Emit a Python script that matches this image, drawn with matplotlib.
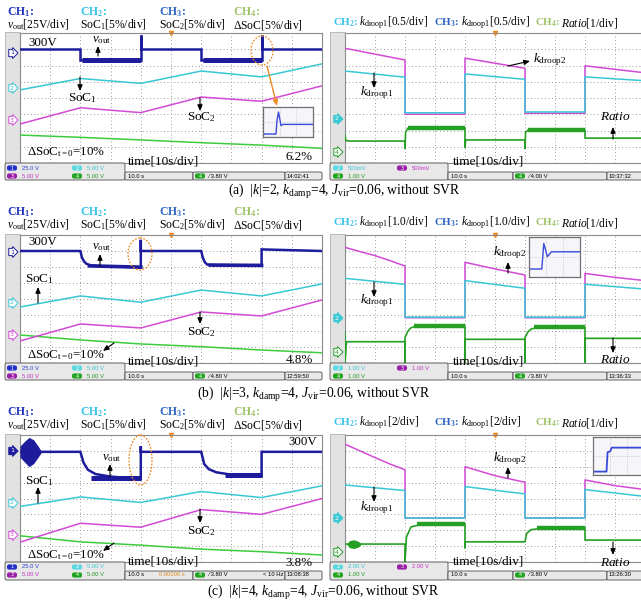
import numpy as np
import matplotlib
matplotlib.use('Agg')
import matplotlib.pyplot as plt
from matplotlib.patches import Rectangle, Ellipse, FancyBboxPatch

plt.rcParams['font.family'] = ['Liberation Serif', 'DejaVu Serif']
plt.rcParams['mathtext.fontset'] = 'custom'
plt.rcParams['mathtext.rm'] = 'Liberation Serif'
plt.rcParams['mathtext.it'] = 'Liberation Serif:italic'
plt.rcParams['mathtext.bf'] = 'Liberation Serif:bold'

# ---------------- data (scope divisions: x 0..10 @10 s/div, y 0..8) ----------------
t_knots = [0, 2, 4, 6, 8, 10]
step_x = [0, 2, 2, 4, 4, 6, 6, 8, 8, 10]

# (a) |k|=2
a_vout_x = [0, 2, 2, 4, 4, 4, 6, 6, 8, 8, 8, 10]
a_vout_y = [7.0, 7.0, 6.34, 6.34, 7.88, 7.0, 7.0, 6.34, 6.34, 7.88, 7.0, 7.0]
a_vout_noise_x = [[2.05, 4], [6.05, 8]]
a_vout_noise_y = [6.34, 6.36]
a_soc1 = [4.5, 5.2, 4.9, 5.66, 5.3, 6.1]
a_soc2 = [2.4, 3.4, 3.1, 4.06, 3.8, 4.75]
a_dsoc = [1.72, 1.58, 1.42, 1.25, 1.1, 0.9]
a_kd2 = [7.06, 6.34, 3.0, 3.0, 6.45, 5.83, 3.06, 3.06, 5.98, 5.55]
a_kd1 = [5.66, 5.28, 3.09, 3.09, 5.48, 5.15, 3.14, 3.14, 5.3, 5.06]
a_ratio_x = [0, 0.03, 0.15, 2, 2, 2.02, 2.1, 4, 4, 4.02, 6, 6, 6.02, 6.1, 8, 8, 10]
a_ratio_y = [1.7, 1.38, 1.35, 1.35, 0.9, 1.9, 2.15, 2.15, 0.95, 1.42, 1.42, 0.9, 1.9, 2.03, 2.03, 1.53, 1.53]
a_ratio_noise_x = [[2.1, 4], [6.1, 8]]
a_ratio_noise_y = [2.15, 2.03]
a_inset_x = [0, 0.26, 0.28, 0.31, 0.36, 0.40, 1.0]
a_inset_y = [0.1, 0.1, 0.55, 0.83, 0.38, 0.42, 0.42]

# (b) |k|=3
b_vout_x = [0, 2, 2.05, 2.12, 2.2, 2.35, 2.6, 4, 4, 4, 6, 6.05, 6.12, 6.2, 6.4, 8, 8, 10]
b_vout_y = [7.0, 7.0, 6.6, 6.35, 6.2, 6.1, 6.06, 5.98, 7.7, 7.0, 7.0, 6.6, 6.3, 6.15, 6.12, 6.1, 7.1, 7.0]
b_soc1 = [3.5, 4.19, 3.8, 4.56, 4.19, 4.94]
b_soc2 = [1.375, 2.44, 2.19, 3.19, 2.94, 3.94]
b_dsoc = [1.75, 1.44, 1.19, 1.02, 0.81, 0.64]
b_kd2_x = [0, 0.5, 1, 1.5, 2, 2, 4, 4, 5, 6, 6, 8, 8, 9, 10]
b_kd2_y = [7.23, 6.96, 6.71, 6.40, 6.06, 2.83, 2.83, 6.29, 5.88, 5.5, 2.83, 2.83, 5.6, 5.35, 5.15]
b_kd1 = [5.29, 4.92, 2.87, 2.87, 5.15, 4.67, 2.87, 2.87, 4.92, 4.62]
b_ratio_x = [0, 0, 0.05, 2, 2, 2, 2.1, 2.2, 2.4, 2.7, 4, 4, 4, 6, 6, 6, 6.1, 6.2, 6.4, 6.7, 8, 8, 8, 10]
b_ratio_y = [1.9, 0.0, 1.33, 1.33, 0.0, 1.6, 2.0, 2.2, 2.32, 2.37, 2.3, 0.0, 1.48, 1.48, 0.0, 1.6, 1.95, 2.12, 2.22, 2.27, 2.25, 0.0, 1.54, 1.54]
b_ratio_noise_x = [[2.3, 4], [6.3, 8]]
b_ratio_noise_y = [2.33, 2.25]
b_inset_x = [0, 0.25, 0.27, 0.29, 0.36, 0.44, 1.0]
b_inset_y = [0.2, 0.2, 0.5, 0.84, 0.51, 0.63, 0.63]

# (c) |k|=4
c_vout_x = [0, 2, 2.1, 2.25, 2.5, 3.0, 4.0, 4.0, 4.0, 6, 6.1, 6.25, 6.5, 7.0, 8.0, 8.0, 10]
c_vout_y = [6.94, 6.94, 6.27, 5.81, 5.54, 5.38, 5.23, 7.3, 6.94, 6.94, 6.17, 5.85, 5.65, 5.5, 5.44, 6.94, 6.94]
c_burst_x = [0, 0.15, 0.3, 0.45, 0.6, 0.72]
c_burst_hi = [7.3, 7.6, 7.85, 7.7, 7.3, 6.94]
c_burst_lo = [6.6, 6.3, 6.0, 6.2, 6.6, 6.94]
c_vout_noise_x = [[2.35, 4], [6.8, 8]]
c_vout_noise_y = [5.3, 5.46]
c_soc1 = [3.5, 4.1, 3.75, 4.44, 4.06, 4.8]
c_soc2 = [1.25, 2.44, 2.19, 3.3, 3.0, 4.0]
c_dsoc = [1.65, 1.27, 1.06, 0.81, 0.65, 0.44]
c_kd2_x = [0, 0.5, 1, 1.5, 2, 2, 4, 4, 5, 6, 6, 8, 8, 9, 10]
c_kd2_y = [7.42, 7.0, 6.58, 6.17, 5.81, 2.77, 2.77, 6.0, 5.44, 5.02, 2.77, 2.77, 5.17, 4.81, 4.56]
c_kd1 = [4.85, 4.5, 2.77, 2.77, 4.75, 4.29, 2.77, 2.77, 4.56, 4.13]
c_ratio_x = [0, 2, 2, 2.05, 2.2, 2.5, 4, 4, 4, 6, 6.05, 6.2, 6.5, 8, 8, 10]
c_ratio_y = [1.13, 1.13, 0.0, 1.58, 2.21, 2.35, 2.4, 0.9, 1.27, 1.27, 1.79, 2.04, 2.1, 2.17, 1.38, 1.38]
c_rburst_x = [0.05, 0.15, 0.3, 0.45, 0.55]
c_rburst_hi = [1.13, 1.35, 1.4, 1.3, 1.13]
c_rburst_lo = [1.13, 0.9, 0.85, 0.95, 1.13]
c_ratio_noise_x = [[2.4, 4], [6.4, 8]]
c_ratio_noise_y = [2.37, 2.14]
c_inset_x = [0, 0.26, 0.28, 0.33, 0.36, 1.0]
c_inset_y = [0.09, 0.09, 0.6, 0.62, 0.72, 0.72]

# ---------------- styling ----------------
W, H = 641, 603
C_V = '#1c1c9c'
C_CY = '#38c8d4'
C_MG = '#d24ad6'
C_GR = '#3ccc3c'
C_GR2 = '#25a025'
C_OR = '#f08a24'
H_CH1 = '#2233c0'
H_CH2 = '#35c3ea'
H_CH3 = '#2f66c8'
H_CH4 = '#9fc56a'

fig = plt.figure(figsize=(W / 100, H / 100), dpi=100)
fig.patch.set_facecolor('white')

bg = fig.add_axes([0, 0, 1, 1], zorder=0)
bg.set_xlim(0, W); bg.set_ylim(H, 0); bg.axis('off')


def px_axes(x0, y0, x1, y1, z=1):
    return fig.add_axes([x0 / W, 1 - y1 / H, (x1 - x0) / W, (y1 - y0) / H], zorder=z)


def scope(x0, x1, top, bot):
    ax = px_axes(x0, top, x1, bot)
    ax.set_xlim(0, 10); ax.set_ylim(0, 8)
    ax.set_xticks([]); ax.set_yticks([])
    ax.set_facecolor('white')
    for s in ax.spines.values():
        s.set_color('#8c8c8c'); s.set_linewidth(0.8)
    for gx in range(1, 10):
        ax.axvline(gx, color='#9c9c9c', lw=0.7, ls=(0, (1, 2.6)), zorder=0)
    for gy in range(1, 8):
        ax.axhline(gy, color='#9c9c9c', lw=0.7, ls=(0, (1, 2.6)), zorder=0)
    ax.plot([5], [7.97], marker='v', color=C_OR, ms=3, clip_on=False, zorder=1)
    return ax


rows = [dict(top=33, bot=163, sb=180), dict(top=235, bot=363, sb=380), dict(top=435, bot=562, sb=580)]

# background frames / strips
for r in rows:
    for (sx0, sx1) in [(5, 20), (330, 345)]:
        bg.add_patch(Rectangle((sx0, r['top'] - 1), sx1 - sx0, r['bot'] - r['top'] + 1,
                               fc='#e2e2e2', ec='#b0b0b0', lw=0.6))

axes = {}
for i, r in enumerate(rows):
    axes[(i, 'L')] = scope(20, 322, r['top'], r['bot'])
    axes[(i, 'R')] = scope(345, 645, r['top'], r['bot'])

# ---------------- traces ----------------
def left_panel(ax, vx, vy, soc1, soc2, dsoc, noise_x, noise_y):
    ax.plot(t_knots, dsoc, color=C_GR, lw=1.1, zorder=3)
    ax.plot(t_knots, soc2, color=C_MG, lw=1.1, zorder=3)
    ax.plot(t_knots, soc1, color=C_CY, lw=1.1, zorder=3)
    ax.plot(vx, vy, color=C_V, lw=1.8, zorder=4, solid_joinstyle='miter')
    for nx, ny in zip(noise_x, noise_y):
        ax.plot(nx, [ny, ny], color=C_V, lw=3.6, zorder=4, solid_capstyle='butt')


def right_panel(ax, k2x, k2y, k1y, rx, ry, nx_l, ny_l):
    ax.plot(k2x, k2y, color=C_MG, lw=1.1, zorder=3)
    ax.plot(step_x, k1y, color=C_CY, lw=1.1, zorder=3)
    ax.plot(rx, ry, color=C_GR2, lw=1.2, zorder=4)
    for nx, ny in zip(nx_l, ny_l):
        ax.plot(nx, [ny, ny], color=C_GR2, lw=3.2, zorder=4, solid_capstyle='butt')


left_panel(axes[(0, 'L')], a_vout_x, a_vout_y, a_soc1, a_soc2, a_dsoc, a_vout_noise_x, a_vout_noise_y)
left_panel(axes[(1, 'L')], b_vout_x, b_vout_y, b_soc1, b_soc2, b_dsoc, [], [])
left_panel(axes[(2, 'L')], c_vout_x, c_vout_y, c_soc1, c_soc2, c_dsoc, c_vout_noise_x, c_vout_noise_y)
axes[(1, 'L')].plot([2.3, 4], [6.07, 5.99], color=C_V, lw=2.6, zorder=4)
axes[(1, 'L')].plot([6.3, 8], [6.12, 6.1], color=C_V, lw=2.6, zorder=4)
axes[(2, 'L')].fill_between(c_burst_x, c_burst_lo, c_burst_hi, color=C_V, lw=0, zorder=4)

right_panel(axes[(0, 'R')], step_x, a_kd2, a_kd1, a_ratio_x, a_ratio_y, a_ratio_noise_x, a_ratio_noise_y)
right_panel(axes[(1, 'R')], b_kd2_x, b_kd2_y, b_kd1, b_ratio_x, b_ratio_y, b_ratio_noise_x, b_ratio_noise_y)
right_panel(axes[(2, 'R')], c_kd2_x, c_kd2_y, c_kd1, c_ratio_x, c_ratio_y, c_ratio_noise_x, c_ratio_noise_y)
axes[(2, 'R')].fill_between(c_rburst_x, c_rburst_lo, c_rburst_hi, color=C_GR2, lw=0, zorder=4)


def inset(x0, y0, x1, y1, ix, iy, lw=1.0):
    ia = px_axes(x0, y0, x1, y1, z=5)
    ia.set_xlim(0, 1); ia.set_ylim(0, 1)
    ia.set_xticks([]); ia.set_yticks([])
    ia.set_facecolor('#f5f5fa')
    for s in ia.spines.values():
        s.set_color('#707070'); s.set_linewidth(0.9)
    for g in [0.33, 0.66]:
        ia.axvline(g, color='#b0b0b0', lw=0.5, ls=(0, (1, 2)))
    ia.axhline(0.5, color='#b0b0b0', lw=0.5, ls=(0, (1, 2)))
    ia.plot(ix, iy, color='#3a4ad8', lw=lw)
    return ia


inset(263, 107, 313, 137, a_inset_x, a_inset_y)
inset(529, 237, 580, 277, b_inset_x, b_inset_y)
inset(593, 437, 645, 475, c_inset_x, c_inset_y, lw=1.3)

# ---------------- overlay: text, arrows, status bars ----------------
ov = fig.add_axes([0, 0, 1, 1], zorder=10)
ov.set_xlim(0, W); ov.set_ylim(H, 0); ov.axis('off')


def T(x, y, s, size=9.5, **kw):
    kw.setdefault('va', 'center')
    ov.text(x, y, s, fontsize=size, **kw)


def arrow(x0, y0, x1, y1, color='black'):
    ov.annotate('', xy=(x1, y1), xytext=(x0, y0),
                arrowprops=dict(arrowstyle='-|>,head_length=0.35,head_width=0.15', color=color, lw=0.8,
                                shrinkA=0, shrinkB=0))


def marker(x, y, s, color, filled):
    ov.text(x, y, s, fontsize=4.6, ha='center', va='center', family='DejaVu Sans',
            color='white' if filled else color,
            bbox=dict(boxstyle='rarrow,pad=0.18', fc=color if filled else 'white', ec=color, lw=0.7))


vout_lbl = r'$v_{\rm out}$'
header_y = [(12, 25, 23), (212, 225, 223), (412, 425, 423)]
right_scale = ['0.5', '1.0', '2']
for i, (h1, h2, hr) in enumerate(header_y):
    T(7, h1, r'$\mathbf{CH}_{\mathbf{1}}$:', 8.5, color=H_CH1, fontweight='bold')
    T(80, h1, r'$\mathbf{CH}_{\mathbf{2}}$:', 8.5, color=H_CH2, fontweight='bold')
    T(159, h1, r'$\mathbf{CH}_{\mathbf{3}}$:', 8.5, color=H_CH3, fontweight='bold')
    T(233, h1, r'$\mathbf{CH}_{\mathbf{4}}$:', 8.5, color=H_CH4, fontweight='bold')
    T(7, h2, vout_lbl + '[25V/div]', 8.4)
    T(80, h2, r'SoC$_1$[5%/div]', 8.4)
    T(159, h2, r'SoC$_2$[5%/div]', 8.4)
    T(233, h2, r'$\Delta$SoC[5%/div]', 8.4)
    sc = right_scale[i]
    T(333, hr, r'$\mathbf{CH}_{\mathbf{2}}$:', 7.9, color=H_CH2, fontweight='bold')
    T(359, hr, r'$k_{\rm droop1}$[' + sc + '/div]', 8.3)
    T(434, hr, r'$\mathbf{CH}_{\mathbf{3}}$:', 7.9, color=H_CH3, fontweight='bold')
    T(461, hr, r'$k_{\rm droop1}$[' + sc + '/div]', 8.3)
    T(535, hr, r'$\mathbf{CH}_{\mathbf{4}}$:', 7.9, color=H_CH4, fontweight='bold')
    T(561, hr, r'$Ratio$[1/div]', 8.3)

# channel markers
marker(12, 53, '1', C_V, False); marker(12, 88, '2', C_CY, False); marker(12, 120, '3', C_MG, False)
marker(12, 252, '1', C_V, False); marker(12, 303, '2', C_CY, False); marker(12, 335, '3', C_MG, False)
marker(12, 451, '1', C_V, True); marker(12, 503, '2', C_CY, False); marker(12, 535, '3', C_MG, False)
for yo in [0, 200, 400]:
    marker(337, 119 + yo if yo == 0 else 118 + yo, '2', C_CY, True)
    marker(337, 152 + yo, '4', C_GR2, False)

dsoc_lbl = r'$\Delta$SoC$_{\rm t=0}$=10%'

# panel (a) annotations
T(28, 43, '300V', 9.3)
T(92, 40, vout_lbl, 9.3)
arrow(98, 56, 98, 46)
T(68, 98, r'SoC$_1$', 9.5)
arrow(80, 77, 80, 91)
T(187, 117, r'SoC$_2$', 9.5)
arrow(200, 98, 200, 111)
T(27, 152, dsoc_lbl, 9.3)
T(128, 162, 'time[10s/div]', 9.5)
T(313, 157, '6.2%', 9.4, ha='right')
ov.add_patch(Ellipse((262, 50.5), 22, 29, fill=False, ec=C_OR, lw=1.0, ls=(0, (1.2, 1.2))))
ov.annotate('', xy=(277, 106), xytext=(267, 66),
            arrowprops=dict(arrowstyle='-|>,head_length=0.35,head_width=0.15', color=C_OR, lw=1.0,
                            shrinkA=0, shrinkB=0))
T(533, 60, r'$k_{\rm droop2}$', 9.5)
arrow(508, 66, 530, 61)
T(360, 93, r'$k_{\rm droop1}$', 9.5)
arrow(374, 73, 374, 88)
T(600, 117, r'$Ratio$', 9.5)
arrow(613, 139, 613, 127)
T(453, 162, 'time[10s/div]', 9.5)

# panel (b) annotations
T(28, 242, '300V', 9.3)
T(92, 247, vout_lbl, 9.3)
arrow(100, 266, 100, 254)
T(25, 279, r'SoC$_1$', 9.5)
arrow(38, 303, 38, 287)
T(187, 332, r'SoC$_2$', 9.5)
arrow(200, 312, 200, 324)
T(27, 355, dsoc_lbl, 9.3)
arrow(114, 343, 103, 351)
T(128, 361, 'time[10s/div]', 9.5)
T(313, 360, '4.8%', 9.4, ha='right')
ov.add_patch(Ellipse((140, 254), 24, 32, fill=False, ec=C_OR, lw=1.0, ls=(0, (1.2, 1.2))))
T(493, 253, r'$k_{\rm droop2}$', 9.5)
arrow(508, 273, 508, 262)
T(360, 301, r'$k_{\rm droop1}$', 9.5)
arrow(374, 282, 374, 297)
T(600, 360, r'$Ratio$', 9.5)
arrow(613, 338, 613, 353)
T(453, 361, 'time[10s/div]', 9.5)

# panel (c) annotations
T(317, 442, '300V', 9.3, ha='right')
T(102, 458, vout_lbl, 9.3)
arrow(110, 477, 110, 464)
T(25, 481, r'SoC$_1$', 9.5)
arrow(38, 503, 38, 487)
T(187, 531, r'SoC$_2$', 9.5)
arrow(200, 509, 200, 523)
T(27, 555, dsoc_lbl, 9.3)
arrow(114, 543, 103, 551)
T(128, 562, 'time[10s/div]', 9.5)
T(313, 563, '3.8%', 9.4, ha='right')
ov.add_patch(Ellipse((140.5, 460), 23, 50, fill=False, ec=C_OR, lw=1.0, ls=(0, (1.2, 1.2))))
T(493, 459, r'$k_{\rm droop2}$', 9.5)
arrow(508, 478, 508, 467)
T(360, 508, r'$k_{\rm droop1}$', 9.5)
arrow(374, 487, 374, 502)
T(600, 563, r'$Ratio$', 9.5)
arrow(613, 542, 613, 555)
T(453, 562, 'time[10s/div]', 9.5)

# captions
T(228, 192, r'(a)  |$k$|=2, $k_{\rm damp}$=4, $J_{\rm vir}$=0.06, without SVR', 9.8)
T(197, 394, r'(b)  |$k$|=3, $k_{\rm damp}$=4, $J_{\rm vir}$=0.06, without SVR', 9.8)
T(207, 593, r'(c)  |$k$|=4, $k_{\rm damp}$=4, $J_{\rm vir}$=0.06, without SVR', 9.8)

# ---------------- status bars ----------------
SF = dict(family='Liberation Sans', fontsize=4.2)


def box(x0, y0, x1, y1):
    ov.add_patch(FancyBboxPatch((x0 + 1, y0 + 1), x1 - x0 - 2, y1 - y0 - 2,
                                boxstyle='round,pad=1,rounding_size=1.5', fc='#e8e8e8', ec='#4a4a4a', lw=0.6))


def chip(x, y, s, color):
    ov.add_patch(FancyBboxPatch((x, y - 2.6), 10, 5.2, boxstyle='round,pad=0,rounding_size=2',
                                fc=color, ec='none'))
    ov.text(x + 5, y, s, ha='center', va='center', color='white', family='DejaVu Sans', fontsize=3.6)


def status(top, bot, side, ch_texts, tb, trig, clock, tb2=None, trig2=None):
    y1, y2 = top + 5, top + 13
    if side == 'L':
        bx = [5, 125, 193, 285, 322]
    else:
        bx = [330, 448, 513, 607, 646]
    box(bx[0], top, bx[1], bot)
    for j in range(1, 4):
        box(bx[j], top + 9, bx[j + 1], bot)
    for (cx, cy, num, col, txt, tcol) in ch_texts:
        chip(bx[0] + cx, y1 if cy == 0 else y2, num, col)
        ov.text(bx[0] + cx + 15, y1 if cy == 0 else y2, txt, color=tcol, va='center', **SF)
    ov.text(bx[1] + 3, y2, tb, va='center', **SF)
    if tb2:
        ov.text(bx[1] + 34, y2, tb2, va='center', color='#e08a20', **SF)
    chip(bx[2] + 2, y2, '4', '#1fa51f')
    ov.text(bx[2] + 15, y2, trig, va='center', **SF)
    if trig2:
        ov.text(bx[2] + 70, y2, trig2, va='center', **SF)
    ov.text(bx[3] + 2, y2, clock, va='center', **SF)


CB, CC, CM, CG = '#2030c8', '#5ad8e0', '#9a1fa8', '#1fa51f'
TB, TC, TM, TG = '#2a3ad0', '#3cc6d6', '#c030c8', '#1f9a1f'
left_ch = [(2, 0, '1', CB, '25.0 V', TB), (67, 0, '2', CC, '5.00 V', TC),
           (2, 1, '3', CM, '5.00 V', TM), (67, 1, '4', CG, '5.00 V', TG)]
status(163, 180, 'L', left_ch, '10.0 s', '\u2215 3.80 V', '14:02:41')
status(363, 380, 'L', left_ch, '10.0 s', '\u2215 4.80 V', '12:59:50')
status(562, 580, 'L', left_ch, '10.0 s', '\u2215 3.80 V', '13:08:38', tb2='0.00000 s', trig2='< 10 Hz')
status(163, 180, 'R', [(3, 0, '2', CC, '500mV', TC), (67, 0, '3', CM, '500mV', TM), (3, 1, '4', CG, '1.00 V', TG)],
       '10.0 s', '\u2215 4.00 V', '10:37:32')
status(363, 380, 'R', [(3, 0, '2', CC, '1.00 V', TC), (67, 0, '3', CM, '1.00 V', TM), (3, 1, '4', CG, '1.00 V', TG)],
       '10.0 s', '\u2215 3.80 V', '13:36:33')
status(562, 580, 'R', [(3, 0, '2', CC, '2.00 V', TC), (67, 0, '3', CM, '2.00 V', TM), (3, 1, '4', CG, '1.00 V', TG)],
       '10.0 s', '\u2215 3.80 V', '13:26:30')

fig.savefig('out.png', dpi=100, facecolor='white')
